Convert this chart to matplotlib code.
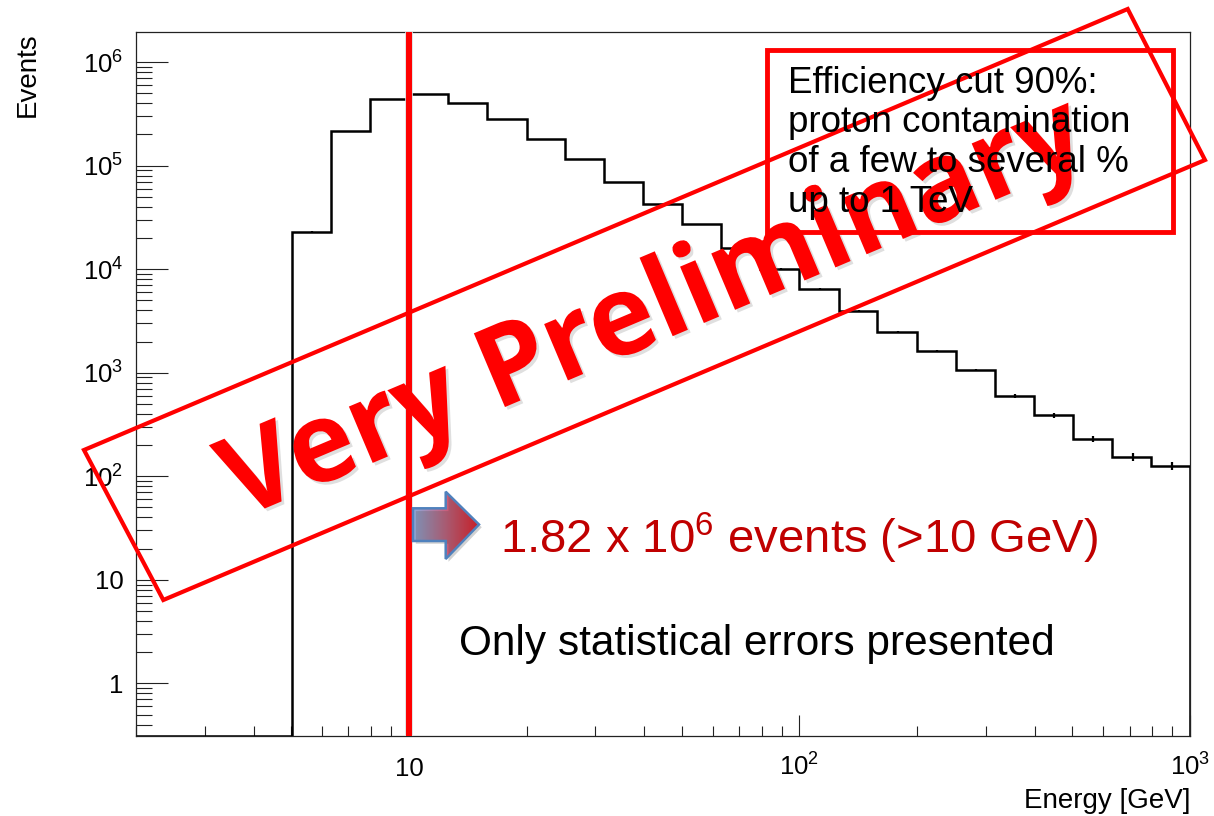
import matplotlib
matplotlib.use('Agg')
import matplotlib.pyplot as plt
import matplotlib.patheffects as pe
from matplotlib.patches import Polygon, Rectangle, PathPatch
from matplotlib.colors import LinearSegmentedColormap
from matplotlib.ticker import LogLocator, NullFormatter
from matplotlib.textpath import TextPath
from matplotlib.font_manager import FontProperties
from matplotlib.transforms import Affine2D
import numpy as np

plt.rcParams['font.family'] = ['Liberation Sans', 'DejaVu Sans']
plt.rcParams['mathtext.fontset'] = 'custom'
plt.rcParams['mathtext.rm'] = 'Liberation Sans'
plt.rcParams['mathtext.it'] = 'Liberation Sans:italic'
plt.rcParams['mathtext.bf'] = 'Liberation Sans:bold'

# energy histogram, 0.1 decade bins from 2 GeV to 1 TeV
edges = [2.0, 2.51, 3.16, 3.98, 5.01, 6.31, 7.94, 10.0, 12.6, 15.8, 20.0, 25.1, 31.6, 39.8,
         50.1, 63.1, 79.4, 100, 126, 158, 200, 251, 316, 398, 501, 631, 794, 1000]
counts = [0, 0, 0, 0, 2.3e4, 2.15e5, 4.36e5, 4.87e5, 3.99e5, 2.81e5, 1.79e5, 1.15e5, 6.93e4, 4.3e4,
          2.72e4, 1.61e4, 1.01e4, 6.5e3, 3.95e3, 2.48e3, 1.61e3, 1.06e3, 593, 386, 231, 154, 125]
cut_energy = 10

xticks = [10, 100, 1000]
xticklabels = ['10', r'$10^{2}$', r'$10^{3}$']
yticks = [1, 10, 100, 1e3, 1e4, 1e5, 1e6]
yticklabels = ['1', '10', r'$10^{2}$', r'$10^{3}$', r'$10^{4}$', r'$10^{5}$', r'$10^{6}$']
ylo, yhi = 0.31, 1.95e6

box_lines = ['Efficiency cut 90%:', 'proton contamination', 'of a few to several %', 'up to 1 TeV']

W, H = 1214, 816
fig = plt.figure(figsize=(W / 100, H / 100), dpi=100)
ax = fig.add_axes([136 / W, 80 / H, 1054 / W, 704 / H])

edges_a = np.array(edges)
counts_a = np.array(counts, dtype=float)
ax.stairs(np.clip(counts_a, ylo, None), edges_a, baseline=ylo, color='black', lw=1.8, zorder=3)
nz = counts_a > 0
centers = 0.5 * (edges_a[:-1] + edges_a[1:])
ax.errorbar(centers[nz], counts_a[nz], yerr=np.sqrt(counts_a[nz]), fmt='none',
            ecolor='black', elinewidth=1.6, zorder=3)
ax.axvline(cut_energy, color='#ff0000', lw=4.3, zorder=5,
           path_effects=[pe.withStroke(linewidth=5.5, foreground='#dddddd')])

ax.set_xscale('log')
ax.set_yscale('log')
ax.set_xlim(edges[0], edges[-1])
ax.set_ylim(ylo, yhi)
ax.set_xticks(xticks, labels=xticklabels)
ax.set_yticks(yticks, labels=yticklabels)
ax.xaxis.set_minor_locator(LogLocator(base=10, subs=np.arange(2, 10), numticks=30))
ax.yaxis.set_minor_locator(LogLocator(base=10, subs=np.arange(2, 10), numticks=30))
ax.xaxis.set_minor_formatter(NullFormatter())
ax.yaxis.set_minor_formatter(NullFormatter())

ax.tick_params(which='both', direction='in', top=False, right=False, width=0.8, color='#222222')
ax.tick_params(axis='y', which='major', length=23, labelsize=18.5, pad=9)
ax.tick_params(axis='y', which='minor', length=11.5)
ax.tick_params(axis='x', which='major', length=15, labelsize=18.5, pad=28.5)
ax.tick_params(axis='x', which='minor', length=7)
for lab in ax.get_xticklabels():
    lab.set_va('baseline')
for s in ax.spines.values():
    s.set_linewidth(0.9)
    s.set_color('#222222')

# overlay in pixel coordinates for the slide annotations
ov = fig.add_axes([0, 0, 1, 1], zorder=10)
ov.set_axis_off()
ov.patch.set_alpha(0)

ov.text(35, 32, 'Events', rotation=90, rotation_mode='anchor', ha='right', va='baseline', fontsize=20)
ov.text(1190, 808, 'Energy [GeV]', ha='right', va='baseline', fontsize=20)

# "Very Preliminary" stamp
stamp = Polygon([(84, 450), (1127.7, 9), (1205, 160), (163.3, 600)], closed=True, fill=False,
                ec='#ff0000', lw=3, joinstyle='miter')
ov.add_patch(stamp)
fp = FontProperties(family='Open Sans', weight='bold')
tp = TextPath((0, 0), 'Very Preliminary', size=100, prop=fp)
ext = tp.get_extents()
cap = TextPath((0, 0), 'V', size=100, prop=fp).get_extents().height
sx = 925 / ext.width
sy = 80 / cap
tr = (Affine2D().translate(-(ext.x0 + ext.x1) / 2, 0).scale(sx, -sy)
      .rotate_deg(-22.9).translate(666, 339))
ov.add_patch(PathPatch(tr.transform_path(tp), fc='#ff0000', ec='none', zorder=3,
                       path_effects=[pe.withSimplePatchShadow(offset=(2, -2), shadow_rgbFace='0.5',
                                                              alpha=0.25)]))

ov.add_patch(Rectangle((767, 50), 406, 182, fill=False, ec='#ff0000', lw=3.5, zorder=4))
for i, line in enumerate(box_lines):
    ov.text(788.5, 93 + 39.5 * i, line, ha='left', va='baseline', fontsize=26.5, color='black', zorder=5)

arrow = Polygon([(413, 508.3), (445.7, 508.3), (445.7, 491.7), (479, 524.5), (445.7, 559),
                 (445.7, 541), (413, 541)], closed=True, fill=False, ec='#4f81bd', lw=1.8, zorder=6,
                path_effects=[pe.withSimplePatchShadow(offset=(2, -2), alpha=0.25)])
ov.add_patch(arrow)
grad = LinearSegmentedColormap.from_list('grad', ['#8eaadb', '#c8607e', '#f0101c'])
im = ov.imshow(np.linspace(0, 1, 256)[None, :], cmap=grad, extent=(413, 479, 559, 491.7),
               aspect='auto', zorder=5)
im.set_clip_path(arrow)

ov.text(500, 553, '1.82 x 10$^{6}$ events (>10 GeV)', ha='left', va='baseline', fontsize=34,
        color='#c00000')
ov.text(459, 655, 'Only statistical errors presented', ha='left', va='baseline', fontsize=30.5,
        color='black')

ov.set_xlim(0, W)
ov.set_ylim(H, 0)

fig.savefig('out.png', dpi=100)
